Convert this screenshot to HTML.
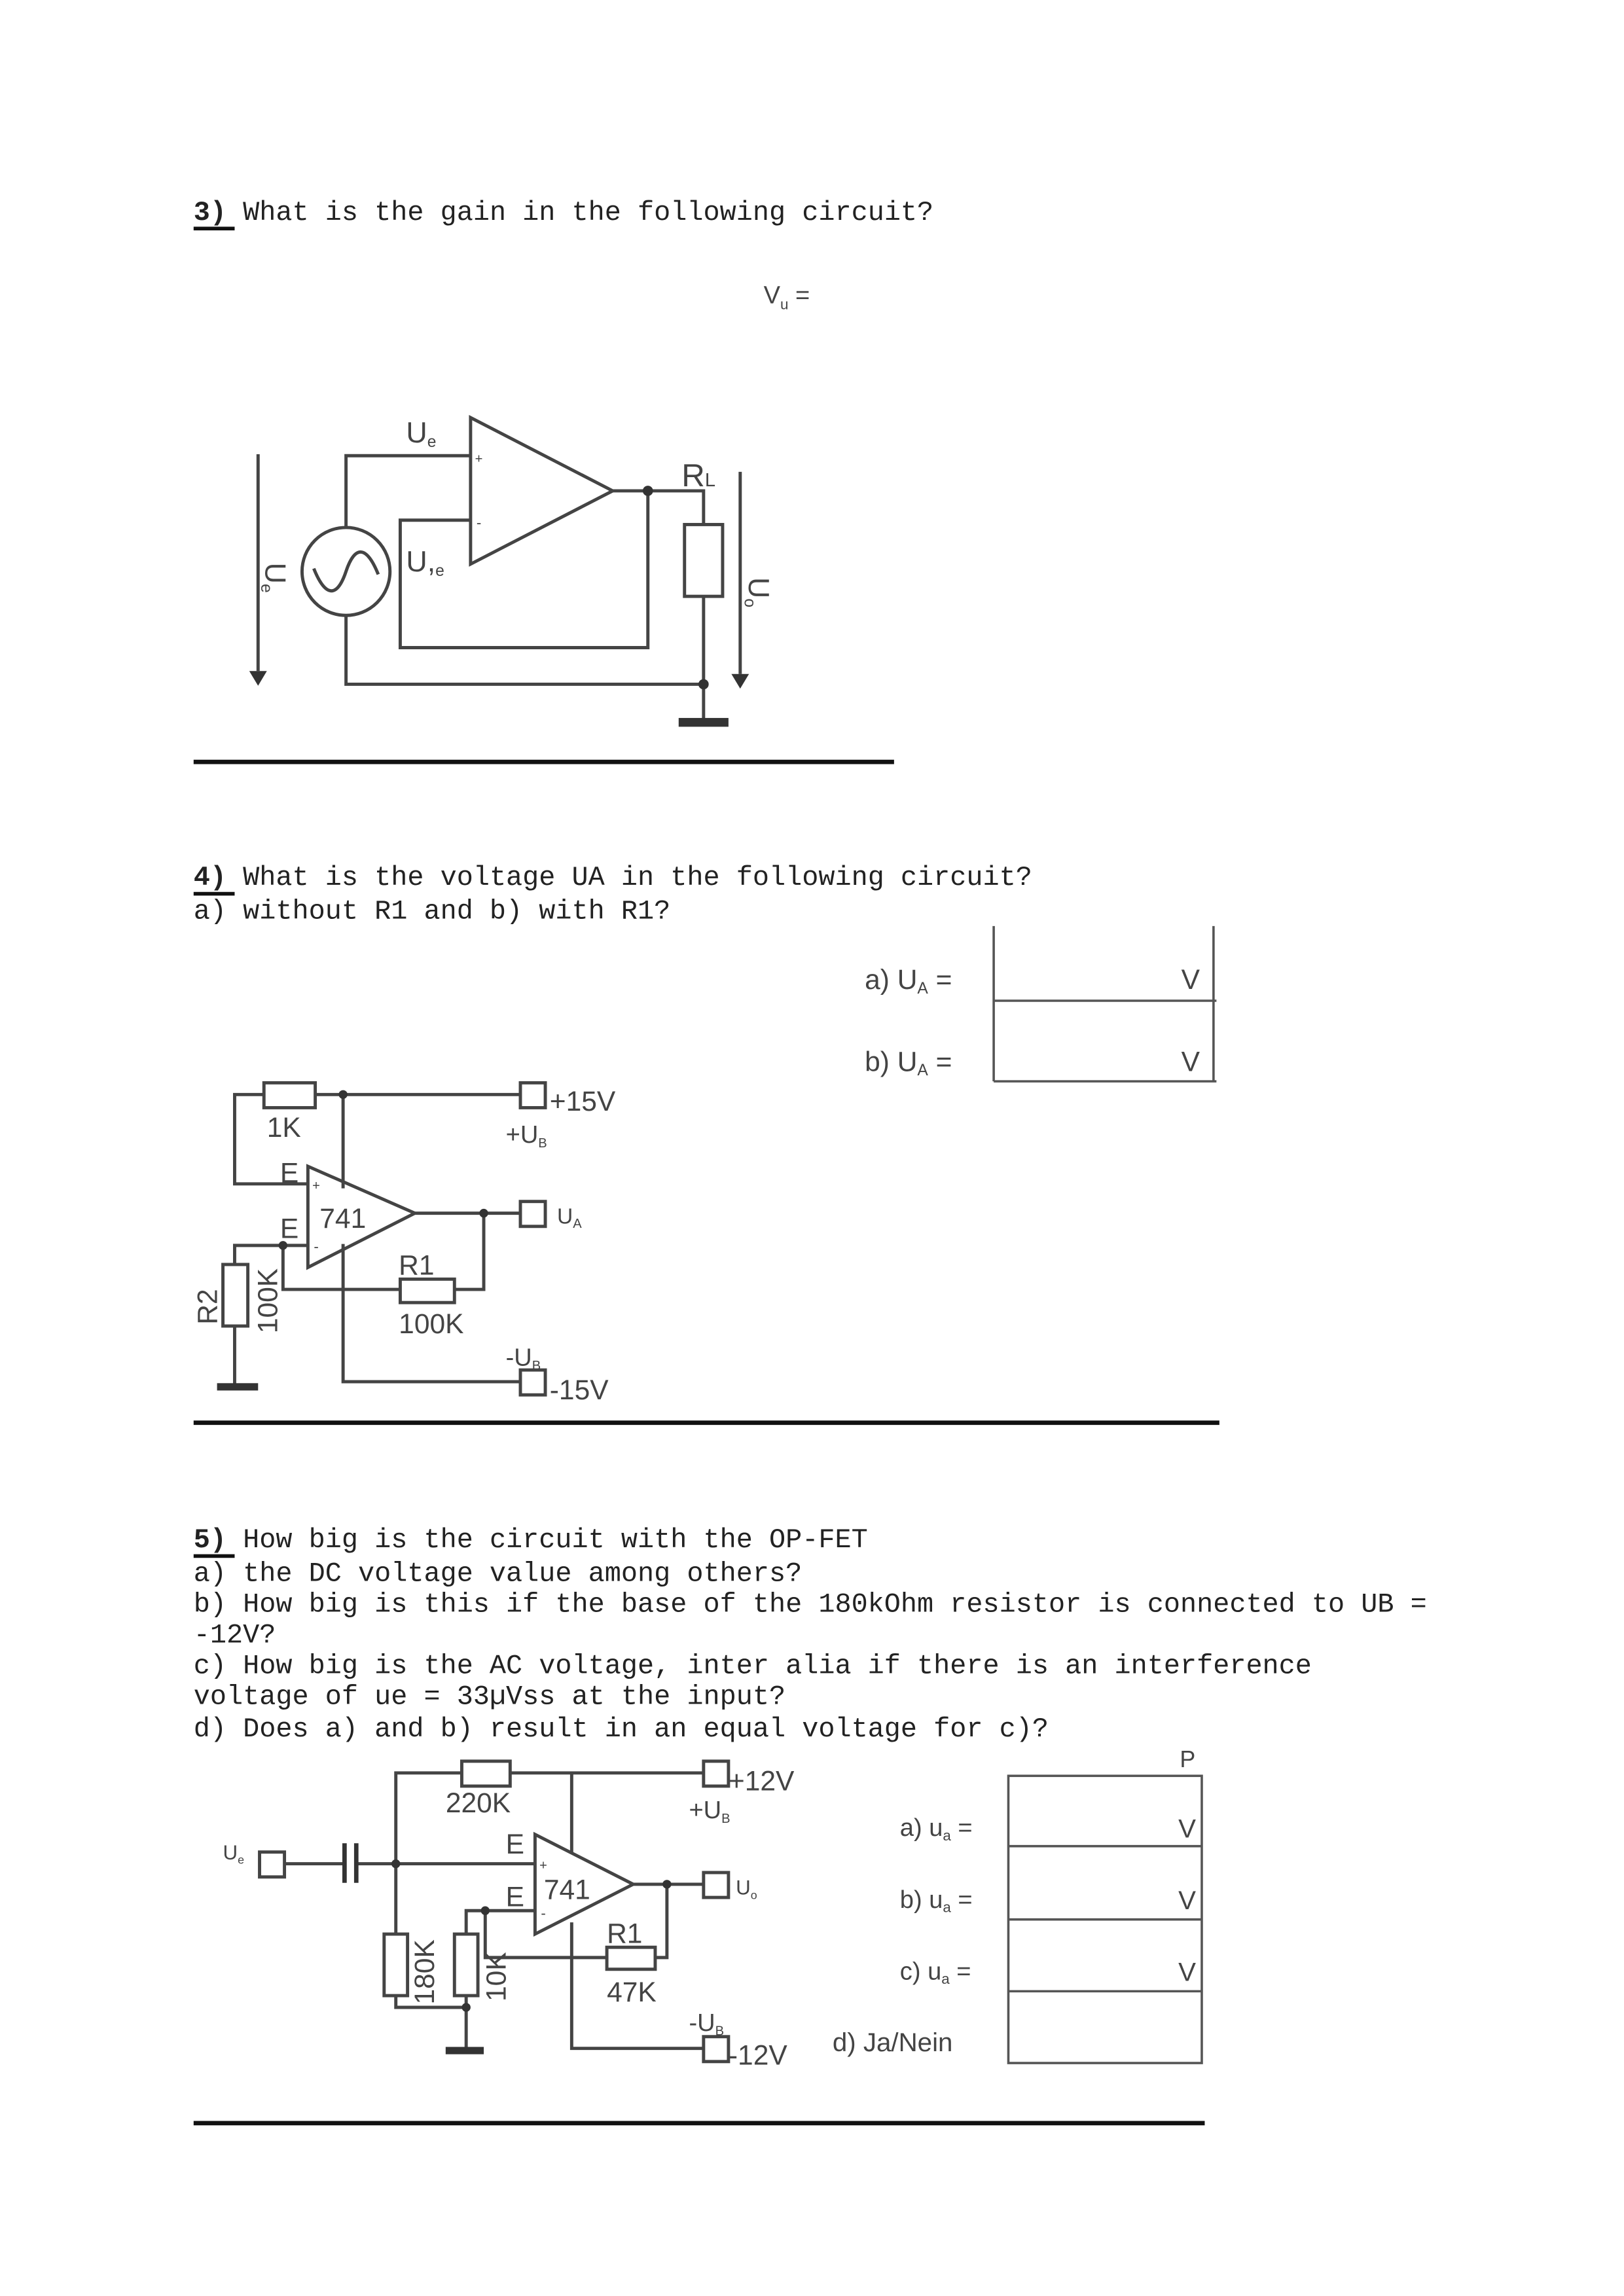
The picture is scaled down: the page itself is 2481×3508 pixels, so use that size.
<!DOCTYPE html>
<html><head><meta charset="utf-8"><style>
html,body{margin:0;padding:0;background:#fff;}
svg{display:block;}
.m{font-family:"Liberation Mono",monospace;font-size:18.7px;fill:#222;}
.b{font-weight:bold;}
.s{font-family:"Liberation Sans",sans-serif;fill:#444;}
.w{stroke:#444;stroke-width:2.2;fill:none;}
.t{stroke:#555;stroke-width:1.6;fill:none;}
</style></head><body>
<svg width="2481" height="3508" viewBox="0 0 1108 1567" xmlns="http://www.w3.org/2000/svg">
<rect width="1108" height="1567" fill="#fff"/>

<!-- Section 3 -->
<text class="m" x="132" y="150"><tspan class="b">3)</tspan> What is the gain in the following circuit?</text>
<line x1="132" y1="156" x2="160" y2="156" stroke="#111" stroke-width="2.5"/>
<text class="s" x="521" y="207" font-size="17">V<tspan font-size="10" dy="4">u</tspan><tspan dy="-4"> =</tspan></text>
<g class="w">
<line x1="176" y1="310" x2="176" y2="458"/>
<polyline points="236,360 236,311 321,311"/>
<circle cx="236" cy="390" r="30"/>
<path d="M214,388 C222,408 230,408 236,390 C242,372 250,372 258,392"/>
<polygon points="321,285 321,385 418,335"/>
<polyline points="321,355 273,355 273,442 442,442 442,335"/>
<polyline points="418,335 480,335 480,358"/>
<rect x="467" y="358" width="26" height="49"/>
<polyline points="480,407 480,493"/>
<polyline points="236,420 236,467 480,467"/>
<line x1="505" y1="322" x2="505" y2="460"/>
</g>
<polygon points="170,458 182,458 176,468" fill="#333"/>
<polygon points="499,460 511,460 505,470" fill="#333"/>
<circle cx="442" cy="335" r="3.5" fill="#333"/>
<circle cx="480" cy="467" r="3.5" fill="#333"/>
<rect x="463" y="490" width="34" height="6" fill="#333"/>
<text class="s" x="324" y="316" font-size="9">+</text>
<text class="s" x="325" y="360" font-size="10">-</text>
<text class="s" x="277" y="302" font-size="20">U<tspan font-size="11" dy="3">e</tspan></text>
<text class="s" x="277" y="390" font-size="20">U,<tspan font-size="11" dy="3">e</tspan></text>
<text class="s" x="465" y="332" font-size="22">R<tspan font-size="13">L</tspan></text>
<text class="s" font-size="20" transform="translate(181,384) rotate(90)">U<tspan font-size="11" dy="3">e</tspan></text>
<text class="s" font-size="20" transform="translate(511,394) rotate(90)">U<tspan font-size="11" dy="3">o</tspan></text>
<line x1="132" y1="520" x2="610" y2="520" stroke="#111" stroke-width="3"/>

<!-- Section 4 -->
<text class="m" x="132" y="604"><tspan class="b">4)</tspan> What is the voltage UA in the following circuit?</text>
<line x1="132" y1="610" x2="160" y2="610" stroke="#111" stroke-width="2.5"/>
<text class="m" x="132" y="627">a) without R1 and b) with R1?</text>
<g class="t">
<line x1="678" y1="632" x2="678" y2="738"/>
<line x1="828" y1="632" x2="828" y2="738"/>
<line x1="678" y1="683" x2="830" y2="683"/>
<line x1="678" y1="738" x2="830" y2="738"/>
</g>
<text class="s" x="590" y="675" font-size="19">a) U<tspan font-size="11" dy="3">A</tspan><tspan dy="-3"> =</tspan></text>
<text class="s" x="590" y="731" font-size="19">b) U<tspan font-size="11" dy="3">A</tspan><tspan dy="-3"> =</tspan></text>
<text class="s" x="806" y="675" font-size="19">V</text>
<text class="s" x="806" y="731" font-size="19">V</text>
<g class="w">
<polyline points="180,747 160,747 160,808 210,808"/>
<rect x="180" y="739" width="35" height="17"/>
<line x1="215" y1="747" x2="355" y2="747"/>
<rect x="355" y="739" width="17" height="17"/>
<line x1="234" y1="747" x2="234" y2="811"/>
<polygon points="210,796 210,865 283,828"/>
<line x1="283" y1="828" x2="355" y2="828"/>
<rect x="355" y="820" width="17" height="17"/>
<polyline points="234,849 234,943 355,943"/>
<rect x="355" y="935" width="17" height="17"/>
<polyline points="210,850 160,850 160,863"/>
<rect x="152" y="863" width="17" height="42"/>
<line x1="160" y1="905" x2="160" y2="945"/>
<polyline points="193,850 193,880 273,880"/>
<rect x="273" y="873" width="37" height="16"/>
<polyline points="310,880 330,880 330,828"/>
</g>
<circle cx="234" cy="747" r="3" fill="#333"/>
<circle cx="330" cy="828" r="3" fill="#333"/>
<circle cx="193" cy="850" r="3" fill="#333"/>
<rect x="148" y="944" width="28" height="5" fill="#333"/>
<text class="s" x="213" y="812" font-size="9">+</text>
<text class="s" x="214" y="854" font-size="10">-</text>
<text class="s" x="182" y="776" font-size="19">1K</text>
<text class="s" x="191" y="807" font-size="19">E</text>
<text class="s" x="191" y="845" font-size="19">E</text>
<text class="s" x="218" y="838" font-size="19">741</text>
<text class="s" x="272" y="870" font-size="19">R1</text>
<text class="s" x="272" y="910" font-size="19">100K</text>
<text class="s" x="375" y="758" font-size="19">+15V</text>
<text class="s" x="345" y="780" font-size="17">+U<tspan font-size="9" dy="3">B</tspan></text>
<text class="s" x="380" y="835" font-size="15">U<tspan font-size="9" dy="3">A</tspan></text>
<text class="s" x="345" y="932" font-size="17">-U<tspan font-size="9" dy="3">B</tspan></text>
<text class="s" x="375" y="955" font-size="19">-15V</text>
<text class="s" font-size="19" transform="translate(148,904) rotate(-90)">R2</text>
<text class="s" font-size="19" transform="translate(189,910) rotate(-90)">100K</text>
<line x1="132" y1="971" x2="832" y2="971" stroke="#111" stroke-width="3"/>

<!-- Section 5 -->
<text class="m" x="132" y="1056"><tspan class="b">5)</tspan> How big is the circuit with the OP-FET</text>
<line x1="132" y1="1062" x2="160" y2="1062" stroke="#111" stroke-width="2.5"/>
<text class="m" x="132" y="1079">a) the DC voltage value among others?</text>
<text class="m" x="132" y="1100">b) How big is this if the base of the 180kOhm resistor is connected to UB =</text>
<text class="m" x="132" y="1121">-12V?</text>
<text class="m" x="132" y="1142">c) How big is the AC voltage, inter alia if there is an interference</text>
<text class="m" x="132" y="1163">voltage of ue = 33µVss at the input?</text>
<text class="m" x="132" y="1185">d) Does a) and b) result in an equal voltage for c)?</text>

<g class="t">
<rect x="688" y="1212" width="132" height="196"/>
<line x1="688" y1="1260" x2="820" y2="1260"/>
<line x1="688" y1="1310" x2="820" y2="1310"/>
<line x1="688" y1="1359" x2="820" y2="1359"/>
</g>
<text class="s" x="805" y="1206" font-size="16">P</text>
<text class="s" x="614" y="1253" font-size="17">a) u<tspan font-size="10" dy="3">a</tspan><tspan dy="-3"> =</tspan></text>
<text class="s" x="614" y="1302" font-size="17">b) u<tspan font-size="10" dy="3">a</tspan><tspan dy="-3"> =</tspan></text>
<text class="s" x="614" y="1351" font-size="17">c) u<tspan font-size="10" dy="3">a</tspan><tspan dy="-3"> =</tspan></text>
<text class="s" x="568" y="1400" font-size="18">d) Ja/Nein</text>
<text class="s" x="804" y="1254" font-size="18">V</text>
<text class="s" x="804" y="1303" font-size="18">V</text>
<text class="s" x="804" y="1352" font-size="18">V</text>

<g class="w">
<polyline points="315,1210 270,1210 270,1320"/>
<rect x="315" y="1202" width="33" height="17"/>
<line x1="348" y1="1210" x2="480" y2="1210"/>
<rect x="480" y="1202" width="17" height="17"/>
<line x1="390" y1="1210" x2="390" y2="1265"/>
<polyline points="390,1312 390,1398 480,1398"/>
<rect x="480" y="1390" width="17" height="17"/>
<rect x="177" y="1264" width="17" height="17"/>
<line x1="194" y1="1272" x2="234" y2="1272"/>
<line x1="244" y1="1272" x2="365" y2="1272"/>
<polygon points="365,1252 365,1320 432,1286"/>
<line x1="432" y1="1286" x2="480" y2="1286"/>
<rect x="480" y="1278" width="17" height="17"/>
<polyline points="365,1304 318,1304 318,1320"/>
<rect x="310" y="1320" width="16" height="42"/>
<rect x="262" y="1320" width="16" height="42"/>
<polyline points="270,1362 270,1370 318,1370"/>
<line x1="318" y1="1362" x2="318" y2="1398"/>
<polyline points="331,1304 331,1336 414,1336"/>
<rect x="414" y="1329" width="33" height="15"/>
<polyline points="447,1336 455,1336 455,1286"/>
</g>
<line x1="235" y1="1258" x2="235" y2="1285" stroke="#333" stroke-width="3"/>
<line x1="243" y1="1258" x2="243" y2="1285" stroke="#333" stroke-width="3"/>
<circle cx="270" cy="1272" r="3" fill="#333"/>
<circle cx="455" cy="1286" r="3" fill="#333"/>
<circle cx="331" cy="1304" r="3" fill="#333"/>
<circle cx="318" cy="1370" r="3" fill="#333"/>
<rect x="304" y="1397" width="26" height="5" fill="#333"/>
<text class="s" x="368" y="1276" font-size="9">+</text>
<text class="s" x="369" y="1309" font-size="10">-</text>
<text class="s" x="304" y="1237" font-size="19">220K</text>
<text class="s" x="345" y="1265" font-size="19">E</text>
<text class="s" x="345" y="1301" font-size="19">E</text>
<text class="s" x="371" y="1296" font-size="19">741</text>
<text class="s" x="414" y="1326" font-size="19">R1</text>
<text class="s" x="414" y="1366" font-size="19">47K</text>
<text class="s" x="497" y="1222" font-size="19">+12V</text>
<text class="s" x="470" y="1241" font-size="17">+U<tspan font-size="9" dy="3">B</tspan></text>
<text class="s" x="502" y="1293" font-size="14">U<tspan font-size="8" dy="3">o</tspan></text>
<text class="s" x="470" y="1386" font-size="17">-U<tspan font-size="9" dy="3">B</tspan></text>
<text class="s" x="497" y="1409" font-size="19">-12V</text>
<text class="s" x="152" y="1269" font-size="14">U<tspan font-size="8" dy="3">e</tspan></text>
<text class="s" font-size="19" transform="translate(296,1368) rotate(-90)">180K</text>
<text class="s" font-size="19" transform="translate(345,1366) rotate(-90)">10K</text>
<line x1="132" y1="1449" x2="822" y2="1449" stroke="#111" stroke-width="3"/>
</svg>
</body></html>
